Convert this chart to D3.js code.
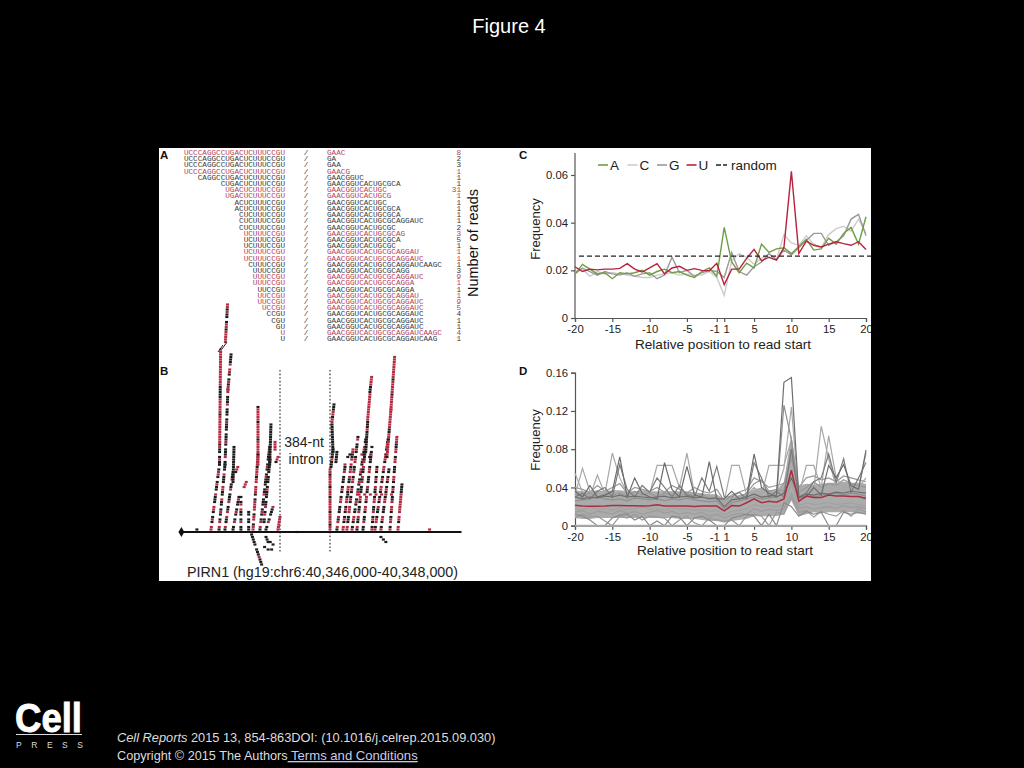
<!DOCTYPE html>
<html><head><meta charset="utf-8">
<script src="https://cdn.jsdelivr.net/npm/d3@7"></script>
<style>html,body{margin:0;background:#000}svg{display:block}text{font-family:"Liberation Sans",Arial,sans-serif}</style>
</head><body><svg id="c" width="1024" height="768"></svg>
<script>
// Panel A
const readRows = [
["UCCCAGGCCUGACUCUUUCCGU","GAAC","8",1],["UCCCAGGCCUGACUCUUUCCGU","GA","2",0],["UCCCAGGCCUGACUCUUUCCGU","GAA","3",0],
["UCCCAGGCCUGACUCUUUCCGU","GAACG","1",1],["CAGGCCUGACUCUUUCCGU","GAACGGUC","1",0],["CUGACUCUUUCCGU","GAACGGUCACUGCGCA","1",0],
["UGACUCUUUCCGU","GAACGGUCACUGC","31",1],["UGACUCUUUCCGU","GAACGGUCACUGCG","1",1],["ACUCUUUCCGU","GAACGGUCACUGC","1",0],
["ACUCUUUCCGU","GAACGGUCACUGCGCA","1",0],["CUCUUUCCGU","GAACGGUCACUGCGCA","1",0],["CUCUUUCCGU","GAACGGUCACUGCGCAGGAUC","1",0],
["CUCUUUCCGU","GAACGGUCACUGCGC","2",0],["UCUUUCCGU","GAACGGUCACUGCGCAG","3",1],["UCUUUCCGU","GAACGGUCACUGCGCA","5",0],
["UCUUUCCGU","GAACGGUCACUGCGC","1",0],["UCUUUCCGU","GAACGGUCACUGCGCAGGAU","1",1],["UCUUUCCGU","GAACGGUCACUGCGCAGGAUC","1",1],
["CUUUCCGU","GAACGGUCACUGCGCAGGAUCAAGC","1",0],["UUUCCGU","GAACGGUCACUGCGCAGG","3",0],["UUUCCGU","GAACGGUCACUGCGCAGGAUC","9",1],
["UUUCCGU","GAACGGUCACUGCGCAGGA","1",1],["UUCCGU","GAACGGUCACUGCGCAGGA","1",0],["UUCCGU","GAACGGUCACUGCGCAGGAU","1",1],
["UUCCGU","GAACGGUCACUGCGCAGGAUC","9",1],["UCCGU","GAACGGUCACUGCGCAGGAUC","5",1],["CCGU","GAACGGUCACUGCGCAGGAUC","4",0],
["CGU","GAACGGUCACUGCGCAGGAUC","1",0],["GU","GAACGGUCACUGCGCAGGAUC","1",0],["U","GAACGGUCACUGCGCAGGAUCAAGC","4",1],
["U","GAACGGUCACUGCGCAGGAUCAAG","1",0]];

// Panel B: [start nt, end nt, first level, read colours, "." = no read at that level]
const pilesAbove = [
[220,280,1,"RR.KRK.KRR.KKKR.KKRK.KRRK.K"],[280,288,27,"KKRK.KKRKRRRRRRRRRRRKRRRRRRKKKKKRRRRRRRRRRRRRRR"],
[322,337,76,"RRRRRKRRK.KKRKRR"],[277,319,1,"KR.RK.KRK.KKR.KKRR.KKKR.KKK"],[319,340,27,"KK.RKKK.KRKKK.KKKRK.KKK.RKKK.RK"],
[340,362,57,"RRKRK.KRR.RKKKK"],[319,376,1,"KR.KKR.RKK.RKKK.RKK.RKKK"],[376,383,20,"KKKK.KKKKKKKKKK"],[376,418,1,"KK.RK.KRK.KKRK"],
[432,432,1,"KK.RK.KKR.RK.K"],[487,487,1,"KK.KK.KK"],[455,470,18,"RRR"],[395,410,24,"KRR"],
[518,553,1,"RRK.RRK.RRRRK.KRRR.RRKRRRKRRRRR"],[553,553,27,"RRRRKRRRRRKRRRRRRKRRRRRK"],
[567,636,1,"KR.RK.KRK.KKK.RKK.KKKRK.KRK.KKKRKK"],[636,645,27,"KKKKKKKKKKKKKKKKK"],[610,659,1,"KK.RK.KKKR"],[596,638,4,"KK.RK.RKK.KKKRK.KKK.KKKKKK"],
[674,674,33,"RRRR"],[681,695,28,"KRR"],[695,709,1,"RRRRRR"],
[1064,1064,1,"RRKRRRRKRRRRRKRRRKRRRRKRR"],[1071,1085,26,"KKKRKKKK"],[1085,1078,32,"KKKKKKKKKKKK"],[1078,1092,44,"RRKRRKKK"],[1106,1113,28,"KKKKK"],
[1220,1317,1,"RK.KRR.KK.KRK.RRK.KRK.KRR.KKR.KKRR.KK"],[1317,1331,32,"KKKKKKKKKRKKK"],[1331,1347,45,"RRRRRRRRRRR"],[1347,1359,56,"KKKRRRR"],
[1383,1475,1,"RK.RRK.KKR.KRK.KRR.KRK.KRR.KRRK.KRRKR"],[1468,1496,30,"KRRRRRRKRRKKRRRRRRRR"],[1496,1522,49,"RRRRRRKRRRRRKRRRRRRRRR"],
[1113,1170,1,"KR.RKR.KKK.RRK.KRK.KKK.RKK"],[1156,1227,1,"RR.KRK.KRK.RRK.KRR.KKR.RRKR.RKKRR"],[1184,1262,1,"RR.KKK.RRR.KRK.KRK.RRK.RKK.RRK.KRKK.RK"],
[1255,1312,1,"KR.KKR.RKK.KRR.KKK.RKR.KKR.RKKKK"],[1298,1361,1,"KK.RKK.KRR.KRR.KKR.KKK.RRK.KKKRK.K"],[1361,1397,1,"RK.KRK.RKK.RRK.KKR.KRK.KRK"],
[1425,1482,1,"RK.KRR.KKK.RRK.KRK.KRK.KK"],[1489,1538,1,"RK.RRK.KRR.RKK.KRK.KRR.KKK.RRK.RRKKRRR"],[1546,1574,1,"RR.KRR.RRRRRRRRKKKK"],
[1170,1170,27,"R"],[1190,1205,30,"KK"],[1290,1310,31,"RK"],[1345,1352,30,"KR"],
[1270,1270,15,"R"],[1310,1310,15,"R"],[1350,1350,15,"R"],[1390,1390,15,"R"],[1430,1430,15,"R"],[1460,1460,15,"R"],[1500,1500,15,"R"],
[1190,1190,15,"K"],[120,120,1,"K"],[830,830,0,"R"],[1770,1770,1,"R"]];
const pilesBelow = [[508,579,1,"KKKKK.KKKRKKK"],[610,625,2,"KKK"],[640,660,4,"KK"],[600,625,6,"KK"],[650,650,7,"K"],[1425,1460,2,"KKK"]];

// Panel C
const positions = [-20,-19,-18,-17,-16,-15,-14,-13,-12,-11,-10,-9,-8,-7,-6,-5,-4,-3,-2,-1,1,2,3,4,5,6,7,8,9,10,11,12,13,14,15,16,17,18,19,20];
const tickPositions = [-20,-15,-10,-5,-1,1,5,10,15,20];
const baseC = [.019,.0205,.0175,.0195,.0185,.019,.0185,.018,.0175,.017,.017,.018,.0185,.019,.018,.0185,.018,.018,.0195,.017,.0095,.024,.027,.0255,.0225,.025,.027,.0245,.035,.0315,.0305,.0345,.031,.0295,.035,.0375,.0385,.0365,.0415,.0355];
const baseG = [.0185,.021,.0195,.018,.0195,.0185,.018,.019,.0175,.0185,.019,.0165,.018,.0255,.019,.02,.0175,.019,.02,.0195,.017,.0275,.0195,.018,.0215,.0235,.027,.0245,.0285,.0265,.0295,.0325,.0355,.0355,.0305,.032,.0345,.0415,.0435,.0345];
const baseA = [.0185,.0225,.0205,.0185,.019,.0165,.019,.0185,.019,.02,.018,.0195,.0205,.019,.0195,.018,.017,.0195,.021,.0175,.038,.0235,.019,.023,.021,.031,.0275,.029,.0295,.027,.03,.033,.0285,.029,.0335,.031,.0355,.038,.031,.0425];
const baseU = [.0215,.0195,.0205,.0202,.0205,.0205,.0208,.0228,.0205,.0193,.021,.0228,.0185,.021,.0217,.02,.0207,.02,.0198,.023,.014,.0205,.0205,.025,.0288,.024,.0255,.0243,.0295,.0615,.027,.0322,.0305,.0298,.031,.032,.0312,.0305,.032,.0287];
const randomLevel = .026;
const legendNames = ["A","C","G","U","random"];

// Panel D
const medianU = [.0215,.0205,.0203,.0203,.0205,.021,.021,.0208,.0208,.0205,.0208,.022,.0205,.0205,.0205,.0205,.02,.0205,.0205,.0205,.0155,.021,.0205,.024,.028,.024,.0255,.0245,.028,.058,.0255,.031,.0295,.0295,.032,.031,.031,.0305,.0305,.0285];
const bandHigh = [.037,.036,.036,.037,.036,.037,.037,.036,.036,.037,.036,.036,.036,.036,.036,.036,.035,.034,.033,.033,.028,.030,.032,.034,.038,.040,.037,.037,.046,.095,.042,.044,.043,.044,.045,.045,.046,.045,.045,.044];
const bandLow = [.008,.007,.007,.008,.008,.008,.008,.008,.008,.008,.008,.008,.008,.008,.007,.007,.007,.006,.005,.005,.003,.005,.006,.007,.010,.010,.010,.010,.012,.026,.010,.012,.014,.013,.014,.014,.014,.014,.013,.012];
const geneA = [.03,.028,.03,.029,.031,.03,.032,.03,.031,.03,.029,.03,.031,.029,.03,.031,.029,.03,.028,.029,.02,.027,.028,.03,.033,.03,.031,.032,.15,.155,.03,.033,.032,.034,.033,.035,.034,.036,.035,.034];
const geneB = [.026,.027,.028,.03,.028,.027,.028,.026,.029,.028,.027,.028,.026,.028,.027,.029,.027,.026,.025,.026,.018,.024,.026,.028,.03,.028,.029,.03,.126,.09,.03,.034,.03,.032,.033,.034,.032,.034,.033,.031];
const geneC = [.032,.06,.036,.03,.028,.035,.032,.03,.028,.03,.031,.029,.03,.028,.033,.03,.028,.03,.026,.028,.024,.028,.03,.032,.034,.03,.032,.035,.06,.124,.03,.036,.038,.104,.07,.04,.038,.036,.04,.05];
const geneD = [.055,.035,.03,.053,.033,.076,.05,.034,.032,.03,.033,.063,.063,.063,.04,.076,.034,.03,.032,.03,.026,.063,.063,.032,.04,.032,.063,.063,.063,.09,.032,.063,.063,.04,.094,.05,.04,.042,.038,.076];
const geneE = [.036,.03,.042,.03,.032,.036,.072,.03,.05,.034,.03,.028,.066,.038,.03,.062,.032,.03,.067,.028,.028,.036,.028,.03,.075,.04,.034,.03,.034,.05,.03,.03,.04,.032,.063,.05,.064,.042,.038,.079];
const geneF = [.03,.034,.028,.036,.04,.03,.064,.038,.03,.042,.035,.05,.04,.03,.042,.032,.03,.05,.036,.062,.03,.03,.035,.028,.066,.05,.03,.036,.03,.08,.028,.034,.046,.05,.075,.045,.07,.035,.05,.066];
const geneG = [.012,.01,.006,0,0,.008,.011,.012,.006,.01,0,.005,0,.01,.009,0,.008,.01,.006,0,0,.008,.01,.012,.01,0,.012,0,.024,.02,.01,.015,.012,.014,0,0,.014,.012,.014,.012];
const geneH = [.008,.012,.009,.01,.005,0,.01,.008,.012,.006,.01,.009,.008,0,.006,.01,.003,0,.008,.006,.005,.006,0,.01,.012,.01,0,.014,.012,.03,.014,.016,.009,.015,.012,.01,.016,.01,.018,.014];
const geneI = [.04,.038,.035,.042,.036,.04,.044,.034,.04,.038,.036,.04,.035,.042,.038,.034,.04,.036,.034,.038,.026,.032,.035,.038,.05,.046,.04,.042,.044,.07,.04,.05,.052,.048,.05,.046,.052,.05,.048,.046];
const geneJ = [.014,.016,.012,.015,.014,.012,.016,.013,.015,.012,.014,.016,.013,.015,.012,.014,.012,.014,.01,.012,.008,.011,.013,.012,.018,.015,.017,.016,.018,.034,.018,.02,.017,.019,.02,.018,.021,.019,.02,.018];
const geneK = [.033,.031,.034,.03,.033,.032,.034,.031,.036,.032,.034,.03,.034,.032,.03,.034,.031,.033,.029,.03,.024,.028,.03,.034,.044,.048,.036,.038,.036,.08,.035,.04,.046,.04,.044,.042,.048,.044,.042,.04];
const geneL = [.018,.016,.02,.017,.018,.016,.019,.017,.018,.02,.017,.018,.016,.019,.017,.018,.016,.017,.015,.016,.011,.015,.016,.018,.022,.02,.021,.02,.022,.045,.021,.024,.022,.023,.024,.022,.023,.024,.022,.021];
const geneLines = [[geneL,"#a2a2a2"],[geneJ,"#9c9c9c"],[geneH,"#9a9a9a"],[geneG,"#8a8a8a"],[geneK,"#979797"],[geneI,"#9a9a9a"],[geneD,"#a8a8a8"],[geneC,"#a8a8a8"],[geneB,"#909090"],[geneF,"#7c7c7c"],[geneE,"#6c6c6c"],[geneA,"#6e6e6e"]];
const freqTicksC = [0,.02,.04,.06], freqTicksD = [0,.04,.08,.12,.16];

const svg = d3.select("#c");
svg.append("rect").attr("width",1024).attr("height",768).attr("fill","#000");
svg.append("text").attr("x",509).attr("y",33).attr("text-anchor","middle").attr("fill","#fff").attr("font-size",20).text("Figure 4");
svg.append("defs").append("clipPath").attr("id","panel").append("rect").attr("x",159).attr("y",148).attr("width",712).attr("height",433);
const g = svg.append("g").attr("clip-path","url(#panel)");
g.append("rect").attr("x",159).attr("y",148).attr("width",712).attr("height",433).attr("fill","#fff");
[["A",160,159],["B",160,375],["C",519,159],["D",519,375]].forEach(([t,x,y])=>g.append("text").attr("x",x).attr("y",y).attr("font-size",11.5).attr("font-weight","bold").attr("fill","#111").text(t));

// --- A
const rowY = d3.scaleLinear().domain([0,30]).range([155,341.3]);
const ga = g.append("g").attr("font-size",7.66);
const mono = '"Liberation Mono",monospace';
readRows.forEach((r,i)=>{
  const col = r[3]?"#b23f58":"#3a3a3a";
  const row = ga.append("g").attr("fill",col).attr("transform",`translate(0,${rowY(i)})`);
  row.append("text").attr("x",285).attr("text-anchor","end").style("font-family",mono).text(r[0]);
  row.append("text").attr("x",306).attr("text-anchor","middle").style("font-family",mono).attr("fill","#3a3a3a").text("/");
  row.append("text").attr("x",327).style("font-family",mono).text(r[1]);
  row.append("text").attr("x",461).attr("text-anchor","end").style("font-family",mono).text(r[2]);
});
g.append("text").attr("transform","translate(478,243) rotate(-90)").attr("text-anchor","middle").attr("font-size",14.5).attr("fill","#111").text("Number of reads");

// --- B
const xB = d3.scaleLinear().domain([0,2000]).range([180,462]);
const yB = d3.scaleLinear().domain([0,100]).range([532,282]);
const gb = g.append("g");
const readColour = {R:"#b52a40",K:"#1c1c1c"};
function drawPiles(list,dir){
  list.forEach(([a,b,lvl,cols])=>{
    const t = d3.scaleLinear().domain([0,Math.max(1,cols.length-1)]).range([a,b]);
    const reads = Array.from(cols).map((c,i)=>({c,i})).filter(d=>d.c!==".");
    gb.selectAll(null).data(reads).join("rect")
      .attr("x",d=>xB(t(d.i))-1.5).attr("y",d=>yB(dir*(lvl+d.i))-1.1).attr("width",3).attr("height",2.2)
      .attr("fill",d=>readColour[d.c]);
  });
}
[[280,370,553],[330,370,553]].forEach(([x,y1,y2])=>gb.append("line").attr("x1",x).attr("x2",x).attr("y1",y1).attr("y2",y2).attr("stroke","#222").attr("stroke-width",1.1).attr("stroke-dasharray","1.6 2"));
drawPiles(pilesAbove,1);
drawPiles(pilesBelow,-1);
gb.append("line").attr("x1",xB(0)).attr("x2",xB(2000)-.5).attr("y1",yB(0)).attr("y2",yB(0)).attr("stroke","#111").attr("stroke-width",1.8);
gb.append("path").attr("d",d3.symbol(d3.symbolDiamond,30)).attr("transform",`translate(${xB(10)},${yB(0)})`).attr("fill","#111");
[[218,352,223,345],[222,349,227,342]].forEach(([a,b,c,d])=>gb.append("line").attr("x1",a).attr("y1",b).attr("x2",c).attr("y2",d).attr("stroke","#222").attr("stroke-width",1));
gb.append("text").attr("x",304).attr("y",447).attr("text-anchor","middle").attr("font-size",14).attr("fill","#222").text("384-nt");
gb.append("text").attr("x",306).attr("y",464).attr("text-anchor","middle").attr("font-size",14).attr("fill","#222").text("intron");
gb.append("text").attr("x",187).attr("y",577).attr("font-size",14.3).attr("fill","#222").text("PIRN1 (hg19:chr6:40,346,000-40,348,000)");

// --- shared axis helper
const xPos = d3.scalePoint().domain(positions).range([575,866]);
function axes(gp,y,ticks,fmt,labelY,labelX,freqY){
  const ay = gp.append("g").attr("transform","translate(575,0)").call(d3.axisLeft(y).tickValues(ticks).tickFormat(fmt).tickSize(4).tickPadding(3));
  const ax = gp.append("g").attr("transform",`translate(0,${y(0)})`).call(d3.axisBottom(xPos).tickValues(tickPositions).tickSize(4).tickPadding(3).tickFormat(String));
  [ay,ax].forEach(a=>{a.selectAll("path,line").attr("stroke","#555").attr("stroke-width",1.2);a.selectAll("text").attr("font-size",11.3).attr("fill","#222");});
  ax.selectAll(".tick text").attr("dx",d=>d===-1?-2.5:d===1?2:0);
  gp.append("text").attr("x",labelX).attr("y",labelY).attr("text-anchor","middle").attr("font-size",13.6).attr("fill","#222").text("Relative position to read start");
  gp.append("text").attr("transform",`translate(540,${freqY}) rotate(-90)`).attr("text-anchor","middle").attr("font-size",13).attr("fill","#222").text("Frequency");
}

// --- C
const yC = d3.scaleLinear().domain([0,.06]).range([318,175]);
const gc = g.append("g");
const lineC = d3.line().x((d,i)=>xPos(positions[i])).y(d=>yC(d));
const colC = {A:"#6f9e45",C:"#cccccc",G:"#9a9a9a",U:"#b8233c"};
axes(gc,yC,freqTicksC,d=>d===0?"0":d3.format(".2f")(d),349,723,229);
gc.select("g path").attr("d","M-0,318V153");
[[baseC,"C"],[baseG,"G"],[baseA,"A"],[baseU,"U"]].forEach(([s,n])=>gc.append("path").attr("d",lineC(s)).attr("fill","none").attr("stroke",colC[n]).attr("stroke-width",1.4));
gc.append("line").attr("x1",579).attr("x2",871).attr("y1",yC(randomLevel)).attr("y2",yC(randomLevel)).attr("stroke","#222").attr("stroke-width",1.2).attr("stroke-dasharray","5 3");
const legendX = d3.scalePoint().domain(legendNames).range([598,716]);
legendNames.forEach(n=>{
  const x = legendX(n);
  gc.append("line").attr("x1",x).attr("x2",x+(n==="random"?11:10)).attr("y1",165).attr("y2",165).attr("stroke",n==="random"?"#222":colC[n]).attr("stroke-width",1.6).attr("stroke-dasharray",n==="random"?"5 2":null);
  gc.append("text").attr("x",x+(n==="random"?15:12)).attr("y",170).attr("font-size",13.5).attr("fill","#222").text(n);
});

// --- D
const yD = d3.scaleLinear().domain([0,.16]).range([525.7,372.7]);
const gd = g.append("g");
axes(gd,yD,freqTicksD,d=>d===0?"0":d3.format(".2f")(d),555,725,440);
const lineD = d3.line().x((d,i)=>xPos(positions[i])).y(d=>yD(d));
const band = d3.area().x((d,i)=>xPos(positions[i])).y0((d,i)=>yD(bandLow[i])).y1(d=>yD(d));
gd.append("path").attr("d",band(bandHigh)).attr("fill","#ababab");
geneLines.forEach(([s,c])=>gd.append("path").attr("d",lineD(s)).attr("fill","none").attr("stroke",c).attr("stroke-width",1.2));
gd.append("line").attr("x1",575).attr("x2",866).attr("y1",yD(0)).attr("y2",yD(0)).attr("stroke","#aaa").attr("stroke-width",2);
gd.append("path").attr("d",lineD(medianU)).attr("fill","none").attr("stroke","#a92f42").attr("stroke-width",1.5);

// --- footer
svg.append("text").attr("x",15).attr("y",732).attr("font-size",41).attr("font-weight","bold").attr("fill","#fff").attr("stroke","#fff").attr("stroke-width",.9).attr("textLength",67).attr("lengthAdjust","spacingAndGlyphs").text("Cell");
svg.append("rect").attr("x",16).attr("y",734).attr("width",66).attr("height",1).attr("fill","#ddd");
svg.append("text").attr("x",16).attr("y",748).attr("font-size",8.5).attr("fill","#ddd").attr("textLength",67).text("PRESS");
const f1 = svg.append("text").attr("x",117).attr("y",742).attr("font-size",12.8).attr("fill","#ddd");
f1.append("tspan").attr("font-style","italic").text("Cell Reports");
f1.append("tspan").text(" 2015 13, 854-863DOI: (10.1016/j.celrep.2015.09.030)");
const f2 = svg.append("text").attr("x",117).attr("y",760).attr("font-size",12.7).attr("fill","#ddd");
f2.append("tspan").text("Copyright © 2015 The Authors");
f2.append("tspan").attr("fill","#c9c9ee").attr("text-decoration","underline").attr("font-size",13.1).text(" Terms and Conditions");
</script></body></html>
